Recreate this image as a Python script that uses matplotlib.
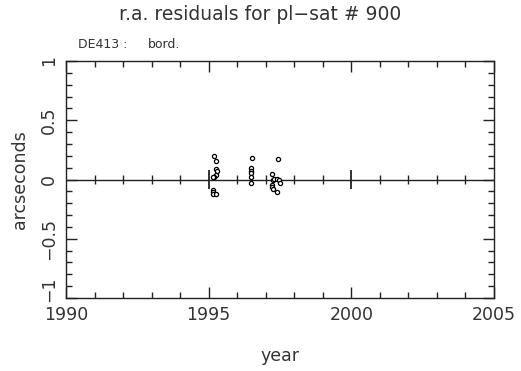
import numpy as np
import matplotlib
matplotlib.use("Agg")
import matplotlib.pyplot as plt
import matplotlib.transforms as mtransforms
from matplotlib.ticker import MultipleLocator

# Residuals in right ascension (arcsec) versus epoch
years = [1995.20, 1995.26, 1995.26, 1995.28, 1995.26, 1995.19, 1995.14,
         1995.16, 1995.16, 1995.14, 1995.26,
         1996.51, 1996.47, 1996.50, 1996.49, 1996.50, 1996.47,
         1997.43, 1997.21, 1997.27, 1997.29, 1997.41, 1997.48, 1997.51,
         1997.22, 1997.23, 1997.27, 1997.39]
resid = [0.198, 0.159, 0.086, 0.074, 0.041, 0.024, 0.019,
         -0.089, -0.103, -0.122, -0.122,
         0.179, 0.095, 0.074, 0.052, 0.024, -0.027,
         0.170, 0.044, -0.004, 0.002, 0.004, -0.004, -0.027,
         -0.046, -0.066, -0.083, -0.103]

xlim = (1990, 2005)
ylim = (-1, 1)
x_ticks = [1990, 1995, 2000, 2005]
y_ticks = [-1, -0.5, 0, 0.5, 1]
y_tick_labels = ["\u22121", "\u22120.5", "0", "0.5", "1"]

title = "r.a. residuals for pl\u2212sat # 900"
ephem = "DE413 :"
observer = "bord."

ink = "#222222"
text_ink = "#333333"
plt.rcParams["font.family"] = ["DejaVu Sans"]

fig = plt.figure(figsize=(5.21, 3.71), dpi=100)
ax = fig.add_axes([66 / 521, 1 - 298 / 371, 428 / 521, 237 / 371])
ax.set_xlim(*xlim)
ax.set_ylim(*ylim)

# zero line with yearly ticks
ax.axhline(0, color=ink, lw=1.0)
minor_years = [y for y in range(xlim[0] + 1, xlim[1]) if y % 5]
major_years = [y for y in range(xlim[0] + 1, xlim[1]) if y % 5 == 0]
ax.vlines(minor_years, -0.038, 0.038, color=ink, lw=1.0)
ax.vlines(major_years, -0.08, 0.08, color=ink, lw=1.3)

ax.plot(years, resid, linestyle="none", marker="o", markersize=3.0,
        markerfacecolor="white", markeredgecolor="black", markeredgewidth=0.9)

ax.xaxis.set_minor_locator(MultipleLocator(1))
ax.yaxis.set_minor_locator(MultipleLocator(0.1))
ax.set_xticks(x_ticks)
ax.set_yticks(y_ticks)
ax.set_yticklabels(y_tick_labels, rotation=90, va="center")
ax.tick_params(which="both", direction="in", top=True, right=True,
               color=ink, width=1.0, labelcolor=text_ink)
ax.tick_params(which="major", length=8, labelsize=12.5, pad=6)
ax.tick_params(which="minor", length=4)
for s in ax.spines.values():
    s.set_color(ink)
    s.set_linewidth(1.0)

# lift the lowest y label a little so it clears the first year label
lowest = ax.get_yticklabels()[0]
lowest.set_transform(lowest.get_transform() +
                     mtransforms.ScaledTranslation(0, 6 / 72, fig.dpi_scale_trans))

ax.set_xlabel("year", fontsize=12.5, color=text_ink, labelpad=16)
ax.set_ylabel("arcseconds", fontsize=12.5, color=text_ink, labelpad=8)

fig.text(0.5, 1 - 14 / 371, title, ha="center", va="center",
         fontsize=13.5, color=text_ink)
fig.text(78 / 521, 1 - 45 / 371, ephem, ha="left", va="center",
         fontsize=9, color=text_ink)
fig.text(148 / 521, 1 - 45 / 371, observer, ha="left", va="center",
         fontsize=9, color=text_ink)

fig.savefig("out.png", dpi=100, facecolor="white")
